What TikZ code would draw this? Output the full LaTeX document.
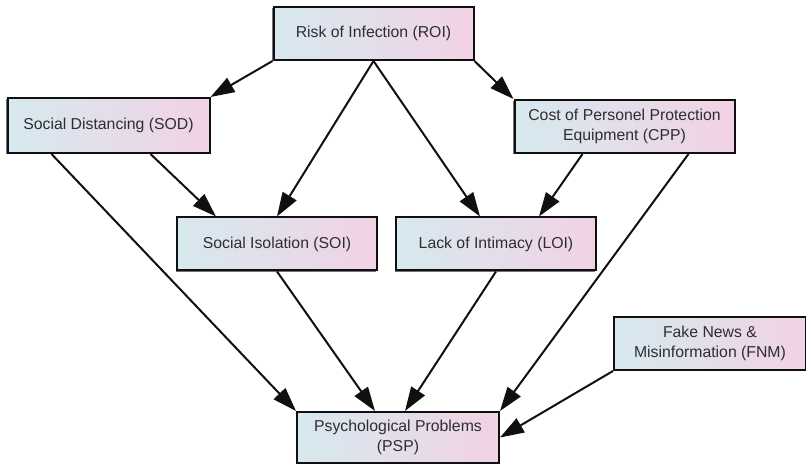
\documentclass[tikz,border=0pt]{standalone}
\usepackage{fontspec}
\setmainfont{Liberation Sans}
\usetikzlibrary{arrows.meta,positioning,shadows}
\definecolor{Ink}{HTML}{101010}
\definecolor{Label}{HTML}{2E2E2E}
\definecolor{TintL}{HTML}{D6E9EF}
\definecolor{TintR}{HTML}{F2D2E5}

\begin{document}
\begin{tikzpicture}[x=1pt,y=1pt,
    block/.style={draw=Ink,line width=2pt,left color=TintL,right color=TintR,minimum width=200pt,minimum height=53pt,align=center,text=Label,font=\fontsize{15.8}{20.5}\selectfont,
      drop shadow={shadow xshift=-1.2pt,shadow yshift=-1.2pt,fill=black,opacity=.55}},
    arrow/.style={-{Triangle[length=24pt,width=16pt]},line width=2pt,draw=Ink}
  ]
    \useasboundingbox (0,0) rectangle (806,466);
    \node[block] (roi) at (373.5,432.5) {Risk of Infection (ROI)};
    \node[block,minimum width=202pt,minimum height=55pt,below left=36pt and 62pt of roi] (sod) {Social Distancing (SOD)};
    \node[block,minimum width=220pt,below right=38pt and 39pt of roi] (cpp) {Cost of Personel Protection\\Equipment (CPP)};
    \node[block] (soi) at (277,222) {Social Isolation (SOI)};
    \node[block,right=17pt of soi] (loi) {Lack of Intimacy (LOI)};
    \node[block,minimum width=202pt,minimum height=51pt] (psp) at (398,28.5) {Psychological Problems\\(PSP)};
    \node[block,minimum width=192pt,above right=40pt and 113pt of psp] (fnm) {Fake News \&\\Misinformation (FNM)};
    \draw[arrow] (roi.south west)--(sod.north east); \draw[arrow] (roi.south east)--(cpp.north west);
    \draw[arrow] (roi.south)--(soi.north); \draw[arrow] (roi.south)--([xshift=-16pt]loi.north);
    \draw[arrow] ([xshift=-60pt]sod.south east)--([xshift=40pt]soi.north west);
    \draw[arrow] ([xshift=45pt]sod.south west)--(psp.north west);
    \draw[arrow] ([xshift=-42pt]cpp.south)--([xshift=-58pt]loi.north east);
    \draw[arrow] ([xshift=-47pt]cpp.south east)--(psp.north east);
    \draw[arrow] (soi.south)--([xshift=-23pt]psp.north); \draw[arrow] (loi.south)--([xshift=7pt]psp.north);
    \draw[arrow] (fnm.south west)--(psp.east);
  \end{tikzpicture}
\end{document}
